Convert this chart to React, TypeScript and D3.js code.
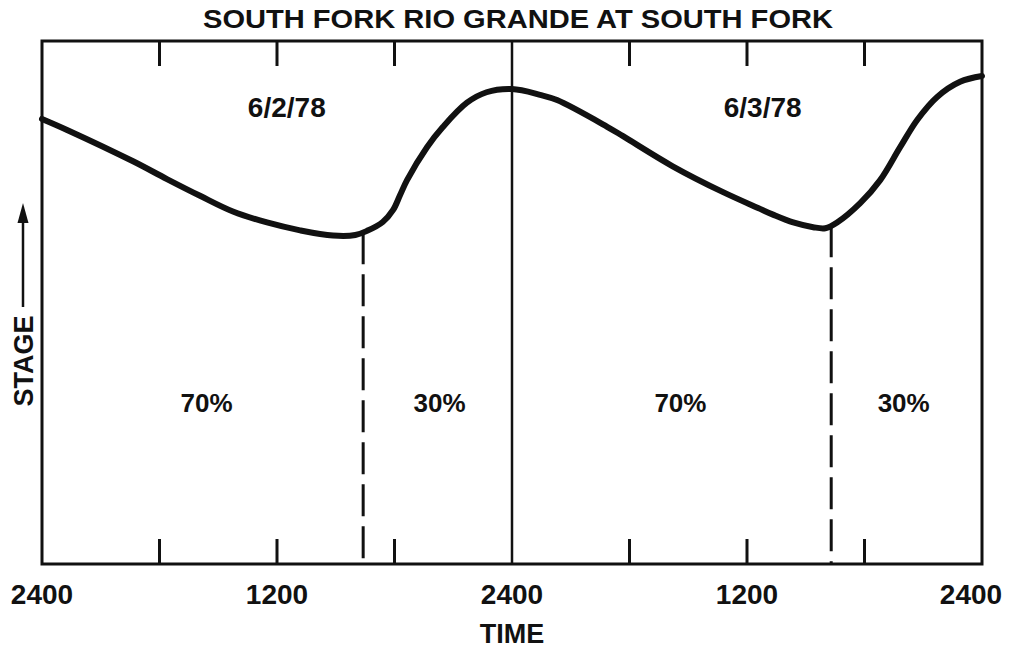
import React from "react";
import * as d3 from "d3";

// ---- data ----
const title = "SOUTH FORK RIO GRANDE AT SOUTH FORK";
const xAxisTitle = "TIME";
const yAxisTitle = "STAGE";

// hours since start (0..48), stage in arbitrary units
const hours = [
  0, 1.28, 4.65, 6.38, 8.07, 9.75, 11.49, 13.18, 14.86, 16.0, 16.6, 17.4, 17.93, 18.28, 18.64, 19.66, 20.48, 21.7, 22.7, 24.0,
  25.43, 26.3, 28.86, 29.67, 32.23, 34.78, 36.67, 37.33, 38.36, 39.38, 40.0, 40.6, 41.78, 42.8, 43.82, 44.69, 45.71, 46.88, 48,
];
const stage = [
  8.51, 8.3, 7.7, 7.36, 7.04, 6.74, 6.53, 6.38, 6.28, 6.29, 6.37, 6.54, 6.77, 7.05, 7.34, 7.97, 8.36, 8.82, 9.02, 9.08,
  8.97, 8.87, 8.36, 8.18, 7.6, 7.11, 6.79, 6.68, 6.53, 6.44, 6.42, 6.53, 6.9, 7.34, 7.97, 8.49, 8.93, 9.22, 9.33,
];

const tickHours = [6, 12, 18, 30, 36, 42];
const labelHours = [0, 12, 24, 36, 48];
const labelTexts = ["2400", "1200", "2400", "1200", "2400"];
const dayDivider = 24;
const splitHours = [16.4, 40.3];
const dateLabels = ["6/2/78", "6/3/78"];
const dateLabelHours = [12.5, 36.8];
const pctLabels = ["70%", "30%", "70%", "30%"];
const pctLabelHours = [8.4, 20.3, 32.6, 44.0];

// ---- layout ----
const W = 1011;
const H = 650;
const left = 42;
const right = 982;
const top = 41;
const bottom = 564;
const FONT = "'Liberation Sans', Arial, Helvetica, sans-serif";

export default function App() {
  const x = d3.scaleLinear().domain([0, 48]).range([left, right]);
  const y = d3.scaleLinear().domain([0, 10]).range([bottom, top]);

  const pts: [number, number][] = hours.map((h, i) => [h, stage[i]]);
  const line = d3
    .line<[number, number]>()
    .x((d) => x(d[0]))
    .y((d) => y(d[1]))
    .curve(d3.curveCatmullRom.alpha(0.5));

  const stageAt = (h: number) => {
    const i = d3.bisectLeft(hours, h);
    if (i <= 0) return stage[0];
    const h0 = hours[i - 1], h1 = hours[i];
    const t = (h - h0) / (h1 - h0);
    return stage[i - 1] + t * (stage[i] - stage[i - 1]);
  };

  // keep the outer axis labels inside the page
  const labelX = (h: number) => Math.max(41, Math.min(x(h), W - 40));

  return (
    <svg
      width={W}
      height={H}
      style={{ position: "absolute", left: 0, top: 0, background: "#fff" }}
      fontFamily={FONT}
      fontWeight="bold"
    >
      <rect x={0} y={0} width={W} height={H} fill="#fff" />
      {/* title */}
      <text
        x={(left + right) / 2 + 6}
        y={28}
        textAnchor="middle"
        fontSize={25}
        textLength={630}
        lengthAdjust="spacingAndGlyphs"
        fill="#111"
      >
        {title}
      </text>

      {/* frame */}
      <rect
        x={left}
        y={top}
        width={right - left}
        height={bottom - top}
        fill="none"
        stroke="#111"
        strokeWidth={3}
      />
      {/* day divider */}
      <line x1={x(dayDivider)} x2={x(dayDivider)} y1={top} y2={bottom} stroke="#111" strokeWidth={2.5} />

      {/* ticks */}
      {tickHours.map((h) => (
        <g key={"t" + h}>
          <line x1={x(h)} x2={x(h)} y1={top} y2={top + 25} stroke="#111" strokeWidth={3} />
          <line x1={x(h)} x2={x(h)} y1={bottom} y2={bottom - 25} stroke="#111" strokeWidth={3} />
        </g>
      ))}

      {/* split dashed lines */}
      {splitHours.map((h) => (
        <line
          key={"s" + h}
          x1={x(h)}
          x2={x(h)}
          y1={y(stageAt(h))}
          y2={bottom}
          stroke="#111"
          strokeWidth={3}
          strokeDasharray="32 10"
        />
      ))}

      {/* hydrograph */}
      <path d={line(pts) || ""} fill="none" stroke="#111" strokeWidth={6} strokeLinejoin="round" strokeLinecap="round" />

      {/* date labels */}
      {dateLabels.map((t, i) => (
        <text key={t} x={x(dateLabelHours[i])} y={117} textAnchor="middle" fontSize={28} fill="#111">
          {t}
        </text>
      ))}

      {/* percent labels */}
      {pctLabels.map((t, i) => (
        <text key={"p" + i} x={x(pctLabelHours[i])} y={412} textAnchor="middle" fontSize={26} fill="#111">
          {t}
        </text>
      ))}

      {/* x labels */}
      {labelHours.map((h, i) => (
        <text key={"l" + i} x={labelX(h)} y={604} textAnchor="middle" fontSize={28} fill="#111">
          {labelTexts[i]}
        </text>
      ))}
      <text x={x(24)} y={643} textAnchor="middle" fontSize={27} fill="#111">
        {xAxisTitle}
      </text>

      {/* y axis title with arrow */}
      <text x={33} y={361} textAnchor="middle" fontSize={27} fill="#111" transform="rotate(-90 33 361)">
        {yAxisTitle}
      </text>
      <line x1={23} x2={23} y1={218} y2={307} stroke="#111" strokeWidth={2.5} />
      <path d="M23,203 L17.5,223 L28.5,223 Z" fill="#111" />
    </svg>
  );
}
